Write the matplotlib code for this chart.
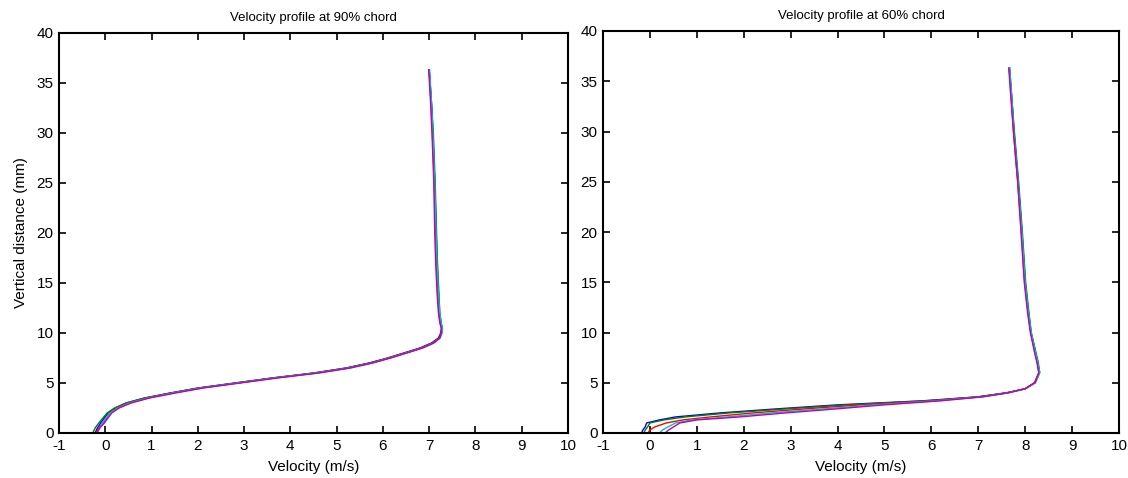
import matplotlib
matplotlib.use("Agg")
import matplotlib.pyplot as plt

plt.rcParams['font.family'] = ['Liberation Sans', 'DejaVu Sans']
plt.rcParams['axes.unicode_minus'] = False

# ---- Data: 90% chord ----
y90 = [0, 0.5, 1, 1.5, 2, 2.5, 3, 3.5, 4, 4.5, 5, 5.5, 6, 6.5, 7, 7.5, 8, 8.5,
       9, 9.5, 10, 10.5, 11, 12, 14, 17, 20, 25, 30, 33, 36.3]
u90_blue = [-0.22, -0.17, -0.10, -0.02, 0.06, 0.22, 0.45, 0.85, 1.40, 2.00, 2.80, 3.60, 4.50, 5.20, 5.70, 6.10,
            6.45, 6.80, 7.05, 7.20, 7.25, 7.27, 7.25, 7.22, 7.20, 7.17, 7.15, 7.12, 7.08, 7.05, 7.00]
u90_green = [-0.27, -0.22, -0.14, -0.05, 0.04, 0.20, 0.45, 0.85, 1.42, 2.03, 2.82, 3.62, 4.52, 5.22, 5.72, 6.12,
             6.47, 6.82, 7.07, 7.22, 7.27, 7.28, 7.26, 7.23, 7.21, 7.18, 7.16, 7.13, 7.09, 7.05, 7.00]
u90_red = [-0.20, -0.14, -0.05, 0.03, 0.10, 0.26, 0.50, 0.90, 1.45, 2.05, 2.85, 3.65, 4.55, 5.25, 5.74, 6.13,
           6.48, 6.83, 7.08, 7.22, 7.26, 7.27, 7.24, 7.21, 7.19, 7.16, 7.14, 7.11, 7.07, 7.04, 7.00]
u90_cyan = [-0.17, -0.12, -0.06, 0.02, 0.10, 0.27, 0.52, 0.92, 1.47, 2.07, 2.87, 3.67, 4.57, 5.27, 5.76, 6.15,
            6.50, 6.85, 7.10, 7.24, 7.28, 7.29, 7.26, 7.23, 7.20, 7.17, 7.15, 7.12, 7.08, 7.05, 7.01]
u90_magenta = [-0.19, -0.12, -0.02, 0.06, 0.14, 0.30, 0.56, 0.96, 1.52, 2.12, 2.92, 3.72, 4.62, 5.30, 5.78, 6.17,
               6.52, 6.86, 7.10, 7.23, 7.26, 7.26, 7.23, 7.20, 7.17, 7.14, 7.12, 7.10, 7.06, 7.03, 6.99]

# ---- Data: 60% chord ----
y60 = [0, 0.3, 0.6, 1.0, 1.3, 1.6, 2.0, 2.4, 2.8, 3.2, 3.6, 4.0, 4.4, 5, 6, 7, 8, 10,
       12, 15, 20, 25, 30, 33, 36.3]
u60_blue = [-0.18, -0.15, -0.10, -0.07, 0.20, 0.55, 1.50, 2.70, 4.00, 5.80, 7.00, 7.60, 8.00, 8.20, 8.30, 8.27,
            8.22, 8.12, 8.07, 8.00, 7.93, 7.85, 7.76, 7.72, 7.66]
u60_green = [-0.13, -0.10, -0.05, 0.00, 0.30, 0.75, 1.70, 2.90, 4.20, 5.90, 7.00, 7.60, 8.00, 8.21, 8.31, 8.28,
             8.23, 8.13, 8.08, 8.01, 7.94, 7.86, 7.77, 7.72, 7.67]
u60_red = [-0.04, 0.00, 0.10, 0.35, 0.70, 1.30, 2.20, 3.30, 4.50, 6.00, 7.05, 7.62, 8.00, 8.20, 8.29, 8.26,
           8.21, 8.12, 8.06, 7.99, 7.92, 7.84, 7.75, 7.71, 7.66]
u60_cyan = [0.20, 0.27, 0.38, 0.55, 0.90, 1.65, 2.60, 3.70, 4.80, 6.10, 7.08, 7.64, 8.00, 8.22, 8.31, 8.27,
            8.22, 8.13, 8.07, 8.00, 7.93, 7.85, 7.76, 7.72, 7.67]
u60_magenta = [0.32, 0.40, 0.50, 0.64, 1.00, 1.92, 2.90, 3.98, 5.00, 6.20, 7.10, 7.65, 8.00, 8.21, 8.29, 8.25,
               8.20, 8.11, 8.05, 7.98, 7.91, 7.84, 7.75, 7.70, 7.65]

colors = ['#0000ff', '#008000', '#ff0000', '#00bfbf', '#bf00bf']
xticks = list(range(-1, 11))
yticks = list(range(0, 41, 5))

fig = plt.figure(figsize=(11.28, 4.78), dpi=100)
ax1 = fig.add_axes([59/1128, 1-433/478, 509/1128, 400/478])
ax2 = fig.add_axes([603/1128, 1-433/478, 516/1128, 402/478])

for ax, y, series, title in [
    (ax1, y90, [u90_blue, u90_green, u90_red, u90_cyan, u90_magenta], 'Velocity profile at 90% chord'),
    (ax2, y60, [u60_blue, u60_green, u60_red, u60_cyan, u60_magenta], 'Velocity profile at 60% chord'),
]:
    for u, c in zip(series, colors):
        ax.plot(u, y, color=c, lw=1.0)
    ax.set_xlim(-1, 10)
    ax.set_ylim(0, 40)
    ax.set_xticks(xticks)
    ax.set_yticks(yticks)
    ax.tick_params(direction='in', top=True, right=True, length=5, width=1.2,
                   labelsize=11, pad=4)
    for s in ax.spines.values():
        s.set_linewidth(1.5)
    ax.set_title(title, fontsize=9.5, pad=9)
    ax.set_xlabel('Velocity (m/s)', fontsize=11, labelpad=5)

ax1.set_ylabel('Vertical distance (mm)', fontsize=11, labelpad=6)

fig.savefig('out.png', dpi=100)
